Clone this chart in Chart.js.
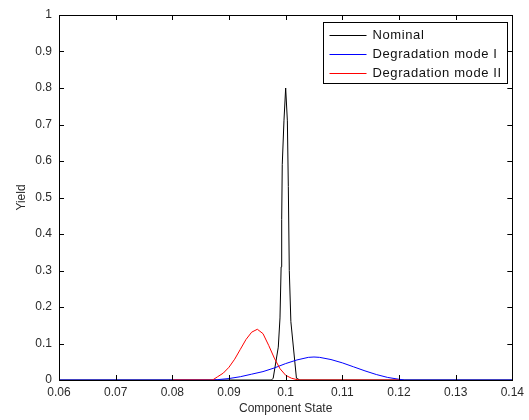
<!DOCTYPE html>
<html>
<head>
<meta charset="utf-8">
<script src="https://cdn.jsdelivr.net/npm/chart.js@4"></script>
<style>
  html, body { margin: 0; padding: 0; background: #fff; }
  #wrap { width: 529px; height: 420px; }
</style>
</head>
<body>
<div id="wrap"><canvas id="yieldChart" width="529" height="420"></canvas></div>
<script>
// ===== DATA =====
const xTicks = [0.06, 0.07, 0.08, 0.09, 0.1, 0.11, 0.12, 0.13, 0.14];
const yTicks = [0, 0.1, 0.2, 0.3, 0.4, 0.5, 0.6, 0.7, 0.8, 0.9, 1];
const seriesNames = ["Nominal", "Degradation mode I", "Degradation mode II"];

const nominalX = [0.06, 0.0975, 0.0978, 0.0987, 0.099, 0.0992, 0.0993, 0.0994, 0.0997, 0.1, 0.1003, 0.10047, 0.10064, 0.10092, 0.1019, 0.1025, 0.14];
const nominalY = [0, 0, 0.005, 0.09, 0.17, 0.31, 0.44, 0.59, 0.71, 0.8, 0.71, 0.53, 0.30, 0.16, 0.005, 0, 0];

const modeIX = [0.06, 0.087, 0.088, 0.09, 0.092, 0.094, 0.096, 0.098, 0.1, 0.102, 0.104, 0.105, 0.106, 0.108, 0.11, 0.112, 0.114, 0.116, 0.118, 0.12, 0.121, 0.14];
const modeIY = [0, 0, 0.001, 0.004, 0.009, 0.016, 0.023, 0.033, 0.045, 0.055, 0.062, 0.063, 0.062, 0.056, 0.047, 0.036, 0.025, 0.015, 0.007, 0.002, 0, 0];

const modeIIX = [0.08, 0.0871, 0.088, 0.089, 0.09, 0.091, 0.092, 0.093, 0.094, 0.095, 0.096, 0.097, 0.098, 0.099, 0.1, 0.101, 0.102, 0.1025, 0.12];
const modeIIY = [0, 0, 0.009, 0.019, 0.035, 0.057, 0.084, 0.111, 0.131, 0.139, 0.127, 0.095, 0.06, 0.031, 0.013, 0.005, 0.001, 0, 0];

const colors = ["#000000", "#0000ff", "#ff0000"];

const FONT = "'Liberation Sans', Arial, Helvetica, sans-serif";
const TEXT = "#2a2a2a";

function pts(xs, ys) {
    return xs.map((x, i) => ({ x: x, y: ys[i] }));
}

function fmt(v) {
    return String(+Number(v).toFixed(2));
}

// ===== BOX + INWARD TICKS (matlab style) =====
const axesBox = {
    id: "axesBox",
    afterDatasetsDraw(chart) {
        const ctx = chart.ctx;
        const a = chart.chartArea;
        const sx = chart.scales.x;
        const sy = chart.scales.y;
        const len = 5;
        ctx.save();
        ctx.strokeStyle = "#000";
        ctx.lineWidth = 1;
        ctx.beginPath();
        xTicks.forEach(v => {
            const px = Math.round(sx.getPixelForValue(v)) + 0.5;
            ctx.moveTo(px, a.bottom);
            ctx.lineTo(px, a.bottom - len);
            ctx.moveTo(px, a.top);
            ctx.lineTo(px, a.top + len);
        });
        yTicks.forEach(v => {
            const py = Math.round(sy.getPixelForValue(v)) + 0.5;
            ctx.moveTo(a.left, py);
            ctx.lineTo(a.left + len, py);
            ctx.moveTo(a.right, py);
            ctx.lineTo(a.right - len, py);
        });
        ctx.stroke();
        ctx.strokeRect(Math.round(a.left) + 0.5, Math.round(a.top) + 0.5,
            Math.round(a.right - a.left), Math.round(a.bottom - a.top));
        ctx.restore();
    }
};

// ===== LEGEND inside plot, top right =====
const boxLegend = {
    id: "boxLegend",
    afterDraw(chart) {
        const ctx = chart.ctx;
        const a = chart.chartArea;
        const w = 184, rowH = 19;
        const h = rowH * seriesNames.length + 4;
        const left = Math.round(a.right - 5 - w) + 0.5;
        const top = Math.round(a.top + 7) + 0.5;
        ctx.save();
        ctx.fillStyle = "#fff";
        ctx.fillRect(left, top, w, h);
        ctx.strokeStyle = "#000";
        ctx.lineWidth = 1;
        ctx.strokeRect(left, top, w, h);
        ctx.font = "13px " + FONT;
        ctx.letterSpacing = "0.6px";
        ctx.textBaseline = "middle";
        seriesNames.forEach((name, i) => {
            const y = Math.round(top + 12 + i * rowH) + 0.5;
            ctx.strokeStyle = colors[i];
            ctx.beginPath();
            ctx.moveTo(left + 6, y);
            ctx.lineTo(left + 43, y);
            ctx.stroke();
            ctx.fillStyle = "#111";
            ctx.fillText(name, left + 49, y);
        });
        ctx.restore();
    }
};

const ctx = document.getElementById("yieldChart");

new Chart(ctx, {
    type: "line",
    data: {
        datasets: [
            { label: seriesNames[0], data: pts(nominalX, nominalY), borderColor: colors[0], order: 2 },
            { label: seriesNames[1], data: pts(modeIX, modeIY), borderColor: colors[1], order: 1 },
            { label: seriesNames[2], data: pts(modeIIX, modeIIY), borderColor: colors[2], order: 0 }
        ].map(d => Object.assign(d, {
            borderWidth: 1,
            pointRadius: 0,
            tension: 0,
            fill: false
        }))
    },
    options: {
        responsive: false,
        animation: false,
        layout: {
            padding: { left: 0, top: 15, right: 10, bottom: 0 }
        },
        plugins: {
            legend: { display: false },
            tooltip: { enabled: false }
        },
        scales: {
            x: {
                type: "linear",
                min: 0.06,
                max: 0.14,
                afterBuildTicks: s => { s.ticks = xTicks.map(v => ({ value: v })); },
                afterFit: s => { s.height = 40; },
                grid: { display: false, drawTicks: false },
                border: { display: false },
                ticks: {
                    callback: v => fmt(v),
                    maxRotation: 0,
                    autoSkip: false,
                    padding: 5,
                    color: TEXT,
                    font: { family: FONT, size: 12 }
                },
                title: {
                    display: true,
                    text: "Component State",
                    color: TEXT,
                    padding: { top: 0, bottom: 4 },
                    font: { family: FONT, size: 12 }
                }
            },
            y: {
                min: 0,
                max: 1,
                afterBuildTicks: s => { s.ticks = yTicks.map(v => ({ value: v })); },
                afterFit: s => { s.width = 59; },
                grid: { display: false, drawTicks: false },
                border: { display: false },
                ticks: {
                    callback: v => fmt(v),
                    autoSkip: false,
                    padding: 7,
                    color: TEXT,
                    font: { family: FONT, size: 12 }
                },
                title: {
                    display: true,
                    text: "Yield",
                    color: TEXT,
                    padding: { top: 14, bottom: 0 },
                    font: { family: FONT, size: 12 }
                }
            }
        }
    },
    plugins: [axesBox, boxLegend]
});
</script>
</body>
</html>
